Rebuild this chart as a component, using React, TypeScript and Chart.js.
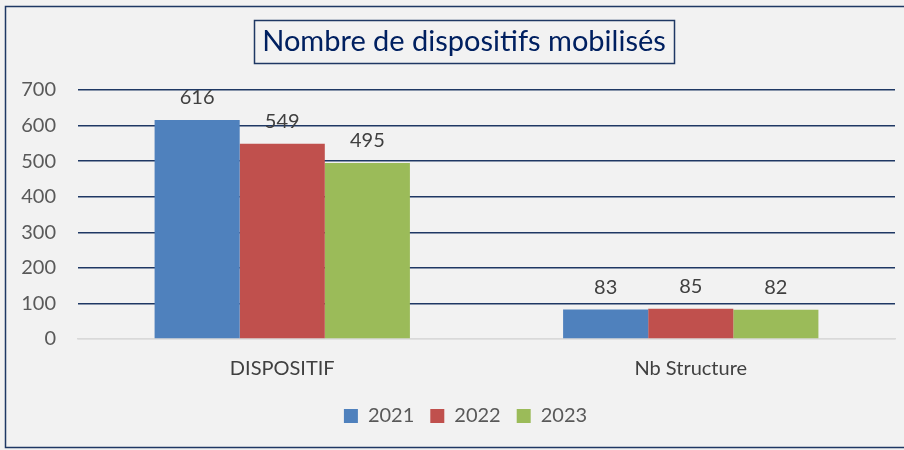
import React, { useEffect, useRef } from "react";
import { Chart, registerables } from "chart.js";

Chart.register(...registerables);

const categories = ["DISPOSITIF", "Nb Structure"];
const seriesLabels = ["2021", "2022", "2023"];
const values2021 = [616, 83];
const values2022 = [549, 85];
const values2023 = [495, 82];
const seriesColors = ["#4f81bd", "#c0504d", "#9bbb59"];
const titleText = "Nombre de dispositifs mobilisés";

const FONT = "Lato, 'Open Sans', sans-serif";

const framePlugin = {
  id: "frame",
  afterLayout(chart: any) {
    if (chart.legend) {
      chart.legend.left += 36;
    }
  },
  beforeDraw(chart: any) {
    const { ctx, width, height } = chart;
    ctx.save();
    ctx.fillStyle = "#f2f2f2";
    ctx.fillRect(0, 0, width, height);
    ctx.strokeStyle = "#1f3864";
    ctx.lineWidth = 1.5;
    ctx.strokeRect(5.5, 6.5, width + 20, height - 9);
    ctx.restore();
  },
  afterDraw(chart: any) {
    const { ctx } = chart;
    ctx.save();
    ctx.font = `29px ${FONT}`;
    ctx.fillStyle = "#002060";
    ctx.textAlign = "center";
    ctx.textBaseline = "middle";
    const cx = 464;
    const cy = 42;
    ctx.fillText(titleText, cx, cy);
    const w = ctx.measureText(titleText).width;
    ctx.strokeStyle = "#1f3864";
    ctx.lineWidth = 1.5;
    ctx.strokeRect(Math.round(cx - w / 2 - 8) + 0.5, 20.5, Math.round(w + 16), 43);
    // data labels
    ctx.font = `20px ${FONT}`;
    ctx.fillStyle = "#404040";
    ctx.textBaseline = "middle";
    chart.data.datasets.forEach((ds: any, i: number) => {
      const meta = chart.getDatasetMeta(i);
      meta.data.forEach((bar: any, j: number) => {
        ctx.fillText(String(ds.data[j]), bar.x, bar.y - 22);
      });
    });
    ctx.restore();
  },
};

export default function App() {
  const ref = useRef<HTMLCanvasElement>(null);
  useEffect(() => {
    if (!ref.current) return;
    const chart = new Chart(ref.current, {
      type: "bar",
      data: {
        labels: categories,
        datasets: [values2021, values2022, values2023].map((d, i) => ({
          label: seriesLabels[i],
          data: d,
          backgroundColor: seriesColors[i],
          borderWidth: 0,
          barPercentage: 1,
          categoryPercentage: 0.625,
        })),
      },
      options: {
        animation: false,
        responsive: false,
        layout: { padding: { top: 90, right: 9, left: 0, bottom: 14 } },
        plugins: {
          title: { display: false },
          tooltip: { enabled: false },
          legend: {
            position: "bottom",
            labels: {
              font: { family: FONT, size: 20 },
              color: "#595959",
              boxWidth: 14,
              boxHeight: 14,
              padding: 16,
            },
          },
        },
        scales: {
          x: {
            grid: { display: false },
            border: { color: "#d9d9d9", width: 1.5 },
            ticks: {
              font: { family: FONT, size: 20 },
              color: "#404040",
              padding: 10,
            },
            afterFit(scale: any) {
              scale.height = 51;
            },
          },
          y: {
            min: 0,
            max: 700,
            ticks: {
              stepSize: 100,
              font: { family: FONT, size: 20 },
              color: "#595959",
              padding: 22,
            },
            border: { display: false },
            grid: {
              drawTicks: false,
              lineWidth: 1.5,
              color: (c: any) => (c.tick && c.tick.value === 0 ? "#d9d9d9" : "#1f3864"),
            },
            afterFit(scale: any) {
              scale.width = 78;
            },
          },
        },
      },
      plugins: [framePlugin],
    });
    return () => chart.destroy();
  }, []);
  return (
    <div style={{ position: "absolute", left: 0, top: 0, width: 904, height: 450 }}>
      <canvas ref={ref} width={904} height={450} style={{ display: "block" }} />
    </div>
  );
}
